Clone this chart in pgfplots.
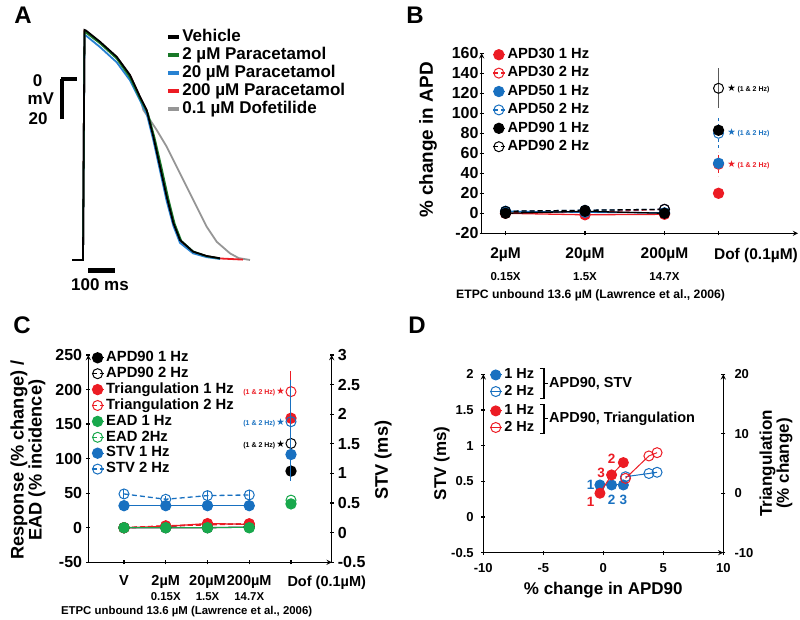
\documentclass[border=0pt]{standalone}
\usepackage{fontspec}
\setmainfont{Liberation Sans}
\newfontfamily\dejavu{DejaVu Sans}
\usepackage{pgfplots}
\pgfplotsset{compat=1.18}
\definecolor{cred}{RGB}{236,28,36}
\definecolor{cblue}{RGB}{24,112,192}
\definecolor{cgreen}{RGB}{24,168,76}
\definecolor{tgreen}{RGB}{24,120,40}
\definecolor{tblue}{RGB}{40,130,210}
\definecolor{tgrey}{RGB}{150,150,150}
\newcommand{\fs}[1]{\fontsize{#1}{#1}\selectfont\bfseries}
\newcommand{\st}{{\dejavu\char"2605}}
\pgfplotsset{
  base/.style={
    scale only axis, clip=false,
    axis line style={line width=1.3pt, -},
    tick style={line width=1.3pt, black},
    tick align=outside,
    major tick length=4pt,
    /pgf/number format/assume math mode=true,
    legend cell align=left,
    legend image code/.code={\draw[mark repeat=2,mark phase=2,##1] plot coordinates {(0pt,0pt) (6pt,0pt) (12pt,0pt)};},
  },
  s1/.style={#1, mark=*, mark size=5pt, line width=1.3pt, mark options={solid, fill=#1}},
  s2/.style={#1, mark=o, mark size=5pt, line width=1.3pt, dash pattern=on 5pt off 3pt, mark options={solid, line width=1pt}},
  eb/.style={error bars/.cd, y dir=both, y explicit, error mark=none, error bar style={line width=1pt, #1}},
}
\begin{document}
\begin{tikzpicture}[x=1pt,y=1pt]
\path[use as bounding box] (0,0) rectangle (800,620);
% panel letters
\node[font=\fs{24}] at (23,604.5) {A};
\node[font=\fs{24}] at (415,604.5) {B};
\node[font=\fs{24}] at (22,294.5) {C};
\node[font=\fs{24}] at (417,294.5) {D};

% ================= Panel A
\begin{axis}[base, at={(60pt,340pt)}, anchor=south west, width=200pt, height=260pt,
  xmin=-90, xmax=660, ymin=-95.52, ymax=41.24, axis lines=none,
  legend style={at={(axis cs:306,36.56)}, anchor=north west, draw=none, fill=none, inner sep=0pt,
    row sep=2.3pt, column sep=1.5pt, font=\fs{17},
    nodes={inner sep=0pt, text height=12.2pt, text depth=3.5pt}},
  legend image code/.code={\draw[#1, line width=4pt] (0pt,0pt) -- (11pt,0pt);},
]
\addlegendimage{black}\addlegendentry{Vehicle}
\addlegendimage{tgreen}\addlegendentry{2 µM Paracetamol}
\addlegendimage{tblue}\addlegendentry{20 µM Paracetamol}
\addlegendimage{cred}\addlegendentry{200 µM Paracetamol}
\addlegendimage{tgrey}\addlegendentry{0.1 µM Dofetilide}
\addplot[tgrey, line width=1.8pt, forget plot] coordinates {(-45,-85)(-3.75,-85)(1.9,35)(7.5,34.8)(60,29.5)(122.6,21.7)(172.5,12)(210,0.5)(222.5,-6.1)(272.5,-16.6)(310,-25.4)(347.5,-35.9)(385,-46.4)(422.5,-57)(460,-67.5)(497.5,-75.4)(547.5,-81.5)(580,-84)(622.5,-85)};
\addplot[cred, line width=1.8pt, forget plot] coordinates {(-45,-85)(-3.75,-85)(1.9,35.5)(7.5,35.2)(60,29.3)(122.6,21.5)(172.5,12)(210,0.5)(235,-6.5)(260,-20.5)(285,-36.5)(310,-52.5)(335,-66)(360,-75)(409,-81)(460,-83)(510,-84.2)(596,-84.8)};
\addplot[tblue, line width=1.8pt, forget plot] coordinates {(-45,-85)(-3.75,-85)(1.9,33.4)(7.5,33)(60,27)(122.6,19)(172.5,9.5)(210,-1)(235,-8)(260,-22)(285,-38)(310,-54)(335,-67)(360,-76)(409,-81.5)(460,-83.5)(510,-84.5)};
\addplot[tgreen, line width=1.8pt, forget plot] coordinates {(-45,-85)(-3.75,-85)(1.9,35)(7.5,34.6)(60,29)(122.6,21)(172.5,11)(210,0)(240,-8)(265,-21)(290,-36)(315,-52)(340,-66)(365,-75)(409,-80.5)(460,-83)(510,-84.2)};
\addplot[black, line width=1.8pt, forget plot] coordinates {(-45,-85)(-3.75,-85)(1.9,36)(7.5,35.7)(60,29.8)(122.6,21.9)(172.5,12.3)(210,0.9)(235,-6.1)(260,-20.1)(285,-35.9)(310,-51.7)(335,-65.5)(360,-74.5)(409,-80.6)(460,-82.9)(510,-84.1)};
% scale bars
\draw[line width=4pt] (axis cs:-83.6,-11) -- (axis cs:-83.6,10);
\draw[line width=4pt] (axis cs:-85.5,10) -- (axis cs:-25,10);
\draw[line width=5pt] (axis cs:16,-90.3) -- (axis cs:116,-90.3);
\node[font=\fs{17}] at (axis cs:-174,9.5) {0};
\node[font=\fs{17}] at (axis cs:-162,0) {mV};
\node[font=\fs{17}] at (axis cs:-172,-10.8) {20};
\node[font=\fs{17}] at (axis cs:60,-98.2) {100 ms};
\end{axis}

% ================= Panel B
\begin{axis}[base, at={(481.7pt,386.7pt)}, anchor=south west, width=316.3pt, height=180pt,
  xmin=0.7, xmax=4.68, ymin=-20, ymax=160,
  axis x line=bottom, axis y line=left,
  xtick={1,2,3}, xticklabels={2µM,20µM,200µM},
  extra x ticks={3.68}, extra x tick labels={Dof (0.1µM)},
  extra x tick style={xticklabel style={anchor=north west, xshift=-8pt}},
  ytick={-20,0,20,40,60,80,100,120,140,160},
  ticklabel style={font=\fs{16}},
  xticklabel style={font=\fs{15.5}, yshift=-9pt},
  yticklabel style={inner sep=1pt},
  ylabel={\% change in APD}, ylabel style={font=\fs{18.9}, at={(axis description cs:-0.17,0.518)}, anchor=center},
  legend style={at={(axis description cs:0.0326,1.0306)}, anchor=north west, draw=none, fill=none, inner sep=0pt,
    row sep=4.9pt, column sep=2pt, font=\fs{14.7},
    nodes={inner sep=0pt, text height=10.5pt, text depth=3pt}},
]
\addplot[s1=cred] coordinates {(1,0)(2,-1.5)(3,-1)}; \addlegendentry{APD30 1 Hz}
\addplot[s1=cred, only marks, forget plot, eb={cred}] coordinates {(3.68,20) +- (0,4)};
\addplot[s2=cred] coordinates {(1,1)(2,1)(3,4)}; \addlegendentry{APD30 2 Hz}
\addplot[s2=cred, only marks, forget plot, eb={cred, dashed}] coordinates {(3.68,49) +- (0,12)};
\addplot[s1=cblue] coordinates {(1,2)(2,1)(3,0.5)}; \addlegendentry{APD50 1 Hz}
\addplot[s1=cblue, only marks, forget plot, eb={cblue}] coordinates {(3.68,50) +- (0,3)};
\addplot[s2=cblue] coordinates {(1,2)(2,3)(3,4)}; \addlegendentry{APD50 2 Hz}
\addplot[s2=cblue, only marks, forget plot, eb={cblue, dashed}] coordinates {(3.68,80) +- (0,15)};
\addplot[s1=black] coordinates {(1,0)(2,2)(3,0)}; \addlegendentry{APD90 1 Hz}
\addplot[s1=black, only marks, forget plot, eb={black}] coordinates {(3.68,83) +- (0,5)};
\addplot[s2=black] coordinates {(1,2)(2,3)(3,4)}; \addlegendentry{APD90 2 Hz}
\addplot[s2=black, only marks, forget plot, eb={black!65, solid}] coordinates {(3.68,125) +- (0,20)};
\node[anchor=west, inner sep=0pt] at (axis cs:3.79,124.3) {\fontsize{9.5}{9.5}\selectfont\st\,\fs{7}(1 \& 2 Hz)};
\node[anchor=west, inner sep=0pt, text=cblue] at (axis cs:3.79,80) {\fontsize{9.5}{9.5}\selectfont\st\,\fs{7}(1 \& 2 Hz)};
\node[anchor=west, inner sep=0pt, text=cred] at (axis cs:3.79,48) {\fontsize{9.5}{9.5}\selectfont\st\,\fs{7}(1 \& 2 Hz)};
\node[font=\fs{11.5}] at (axis cs:1,-63.7) {0.15X};
\node[font=\fs{11.5}] at (axis cs:2,-63.7) {1.5X};
\node[font=\fs{11.5}] at (axis cs:3,-63.7) {14.7X};
\node[font=\fs{12.2}] at (axis cs:2.07,-81.7) {ETPC unbound 13.6 µM (Lawrence et al., 2006)};
\end{axis}

% ================= Panel C (left axis)
\begin{axis}[base, at={(88.3pt,57.7pt)}, anchor=south west, width=243.4pt, height=207.3pt,
  xmin=0.145, xmax=5.975, ymin=-50, ymax=250,
  axis x line=bottom, axis y line=left,
  xtick={1,2,3,4}, xticklabels={V,2µM,20µM,200µM},
  extra x ticks={5}, extra x tick labels={Dof (0.1µM)},
  extra x tick style={xticklabel style={anchor=north west, xshift=-7pt}},
  ytick={-50,0,50,100,150,200,250},
  ticklabel style={font=\fs{16}},
  xticklabel style={font=\fs{14.5}, yshift=-8pt},
  yticklabel style={inner sep=1pt, xshift=-3pt},
  ylabel={Response (\% change) /\\EAD (\% incidence)},
  ylabel style={font=\fs{18.2}, align=center, at={(axis description cs:-0.248,0.493)}, anchor=center},
  legend style={at={(axis description cs:0.01,1.02)}, anchor=north west, draw=none, fill=none, inner sep=0pt,
    row sep=2.4pt, column sep=2pt, font=\fs{14.8},
    nodes={inner sep=0pt, text height=10.5pt, text depth=3pt}},
]
\addplot[s1=black] coordinates {(1,0)(2,0)(3,0)(4,1)}; \addlegendentry{APD90 1 Hz}
\addplot[s1=black, only marks, forget plot, eb={black}] coordinates {(5,82) +- (0,8)};
\addplot[s2=black] coordinates {(1,0)(2,2)(3,5)(4,5)}; \addlegendentry{APD90 2 Hz}
\addplot[s2=black, only marks, forget plot, eb={black, solid}] coordinates {(5,122) +- (0,12)};
\addplot[s1=cred] coordinates {(1,0)(2,2)(3,6)(4,5)}; \addlegendentry{Triangulation 1 Hz}
\addplot[s1=cred, only marks, forget plot, eb={cred}] coordinates {(5,158.5) +- (0,10)};
\addplot[s2=cred] coordinates {(1,0)(2,3)(3,4)(4,6)}; \addlegendentry{Triangulation 2 Hz}
\addplot[s2=cred, only marks, forget plot, eb={cred, solid}] coordinates {(5,197) +- (0,30)};
\addplot[s1=cgreen] coordinates {(1,0)(2,0)(3,0)(4,0)}; \addlegendentry{EAD 1 Hz}
\addplot[s1=cgreen, only marks, forget plot] coordinates {(5,34.5)};
\addplot[s2=cgreen] coordinates {(1,0)(2,0)(3,0)(4,0)}; \addlegendentry{EAD 2Hz}
\addplot[s2=cgreen, only marks, forget plot] coordinates {(5,40)};
\addlegendimage{s1=cblue}\addlegendentry{STV 1 Hz}
\addlegendimage{s2=cblue}\addlegendentry{STV 2 Hz}
\node[anchor=east, inner sep=0pt, text=cred] at (axis cs:4.86,197) {\fs{7}(1 \& 2 Hz)\,\fontsize{9.5}{9.5}\selectfont\st};
\node[anchor=east, inner sep=0pt, text=cblue] at (axis cs:4.86,152.6) {\fs{7}(1 \& 2 Hz)\,\fontsize{9.5}{9.5}\selectfont\st};
\node[anchor=east, inner sep=0pt] at (axis cs:4.86,119.8) {\fs{7}(1 \& 2 Hz)\,\fontsize{9.5}{9.5}\selectfont\st};
\node[font=\fs{11.4}] at (axis cs:2,-99.8) {0.15X};
\node[font=\fs{11.4}] at (axis cs:3,-99.8) {1.5X};
\node[font=\fs{11.4}] at (axis cs:4,-99.8) {14.7X};
\node[font=\fs{11.4}] at (axis cs:2.5,-121.5) {ETPC unbound 13.6 µM (Lawrence et al., 2006)};
\end{axis}
% Panel C (right axis, STV)
\begin{axis}[base, at={(88.3pt,57.7pt)}, anchor=south west, width=243.4pt, height=207.3pt,
  xmin=0.145, xmax=5.975, ymin=-0.5, ymax=3,
  axis x line=none, axis y line=right,
  ytick={-0.5,0,0.5,1,1.5,2,2.5,3},
  ticklabel style={font=\fs{16}},
  yticklabel style={inner sep=1pt, xshift=3pt},
  ylabel={STV (ms)},
  ylabel style={font=\fs{18.2}, at={(axis description cs:1.211,0.493)}, anchor=center},
]
\addplot[s1=cblue] coordinates {(1,0.456)(2,0.456)(3,0.456)(4,0.456)};
\addplot[s1=cblue, only marks, eb={cblue}] coordinates {(5,1.32) +- (0,0.45)};
\addplot[s2=cblue, eb={cblue, solid}] coordinates {(1,0.654) +- (0,0.08) (2,0.564) +- (0,0.06) (3,0.626) +- (0,0.07) (4,0.637) +- (0,0.08)};
\addplot[s2=cblue, only marks, eb={cblue, solid}] coordinates {(5,1.874) +- (0,0.7)};
\end{axis}

% ================= Panel D (left axis, STV)
\begin{axis}[base, at={(483.3pt,67.3pt)}, anchor=south west, width=240pt, height=178.4pt,
  xmin=-10, xmax=10, ymin=-0.5, ymax=2,
  axis x line=bottom, axis y line=left,
  xtick={-10,-5,0,5,10}, ytick={-0.5,0,0.5,1,1.5,2},
  ticklabel style={font=\fs{13}},
  xticklabel style={yshift=-5pt},
  yticklabel style={xshift=-6.5pt, inner sep=1pt},
  xlabel={\% change in APD90}, xlabel style={font=\fs{17}, at={(axis description cs:0.5,-0.21)}, anchor=center},
  ylabel={STV (ms)}, ylabel style={font=\fs{17}, at={(axis description cs:-0.173,0.5)}, anchor=center},
  legend style={at={(axis description cs:0.024,1.035)}, anchor=north west, draw=none, fill=none, inner sep=0pt,
    row sep=3.2pt, column sep=2pt, font=\fs{14.5},
    nodes={inner sep=0pt, text height=10.4pt, text depth=3pt}},
]
\addplot[s1=cblue, line width=1pt] coordinates {(-0.28,0.449)(0.69,0.449)(1.67,0.449)}; \addlegendentry{1 Hz}
\addplot[s2=cblue, solid, line width=1pt] coordinates {(1.85,0.565)(3.8,0.61)(4.48,0.627)}; \addlegendentry{2 Hz}
\node[font=\fs{13.5}, text=cblue] at (axis cs:-1.05,0.449) {1};
\node[font=\fs{13.5}, text=cblue] at (axis cs:0.7,0.238) {2};
\node[font=\fs{13.5}, text=cblue] at (axis cs:1.67,0.238) {3};
\draw[line width=1.1pt] (axis cs:-5.28,2.085) -- (axis cs:-4.94,2.085) -- (axis cs:-4.94,1.665) -- (axis cs:-5.28,1.665);
\draw[line width=1.1pt] (axis cs:-4.94,1.875) -- (axis cs:-4.61,1.875);
\node[anchor=west, inner sep=1pt, font=\fs{14.5}] at (axis cs:-4.61,1.875) {APD90, STV};
\draw[line width=1.1pt] (axis cs:-5.28,1.58) -- (axis cs:-4.94,1.58) -- (axis cs:-4.94,1.174) -- (axis cs:-5.28,1.174);
\draw[line width=1.1pt] (axis cs:-4.94,1.377) -- (axis cs:-4.61,1.377);
\node[anchor=west, inner sep=1pt, font=\fs{14.5}] at (axis cs:-4.61,1.377) {APD90, Triangulation};
\end{axis}
% Panel D (right axis, triangulation)
\begin{axis}[base, at={(483.3pt,67.3pt)}, anchor=south west, width=240pt, height=178.4pt,
  xmin=-10, xmax=10, ymin=-10, ymax=20,
  axis x line=none, axis y line=right,
  ytick={-10,0,10,20},
  ticklabel style={font=\fs{13}},
  yticklabel style={xshift=8pt, inner sep=1pt},
  ylabel={Triangulation\\(\% change)},
  ylabel style={font=\fs{17}, align=center, at={(axis description cs:1.22,0.5)}, anchor=center},
  legend style={at={(axis description cs:0.024,0.8335)}, anchor=north west, draw=none, fill=none, inner sep=0pt,
    row sep=3.2pt, column sep=2pt, font=\fs{14.5},
    nodes={inner sep=0pt, text height=10.4pt, text depth=3pt}},
]
\addplot[s1=cred, line width=1pt] coordinates {(-0.28,0)(0.69,3.08)(1.67,5.15)}; \addlegendentry{1 Hz}
\addplot[s2=cred, solid, line width=1pt] coordinates {(1.85,2.5)(3.8,6.27)(4.48,6.82)}; \addlegendentry{2 Hz}
\node[font=\fs{13.5}, text=cred] at (axis cs:-1.05,-1.41) {1};
\node[font=\fs{13.5}, text=cred] at (axis cs:-0.19,3.36) {3};
\node[font=\fs{13.5}, text=cred] at (axis cs:0.7,5.76) {2};
\end{axis}
\end{tikzpicture}
\end{document}
